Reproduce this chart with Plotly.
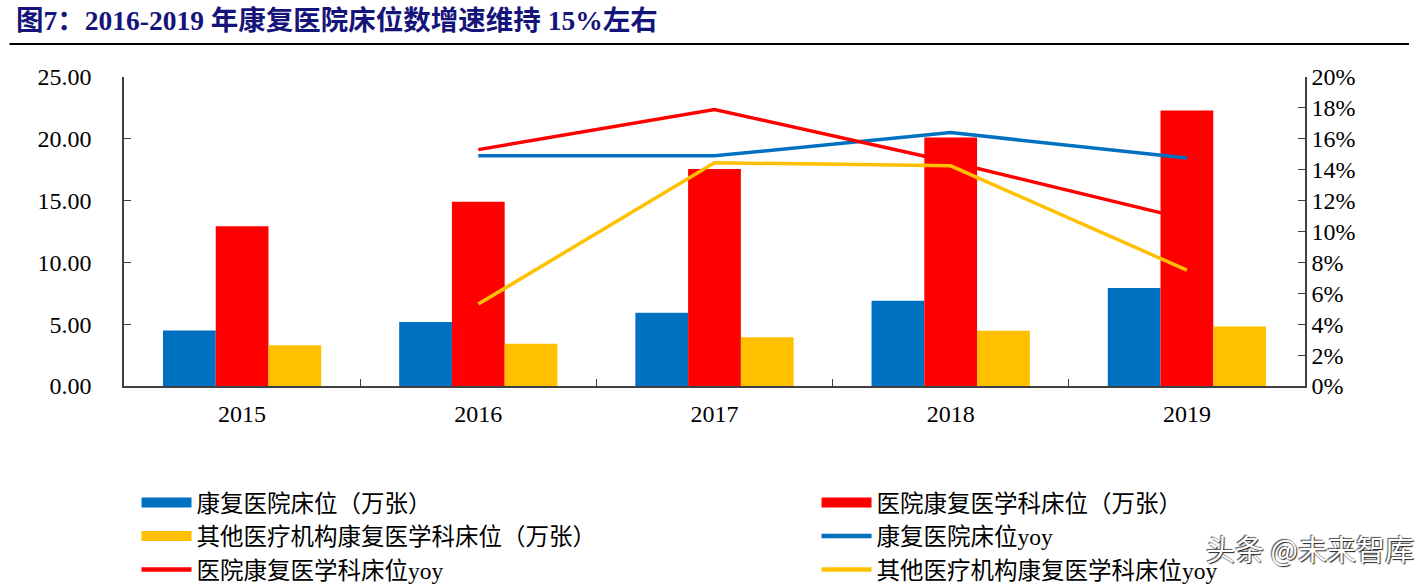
import plotly.graph_objects as go

# data
years = ["2015", "2016", "2017", "2018", "2019"]
rehab_hosp_beds = [4.50, 5.17, 5.92, 6.90, 7.93]          # 康复医院床位（万张）
hosp_rehab_dept_beds = [12.93, 14.90, 17.55, 20.11, 22.28]  # 医院康复医学科床位（万张）
other_rehab_beds = [3.29, 3.42, 3.95, 4.46, 4.81]          # 其他医疗机构康复医学科床位（万张）
rehab_hosp_yoy = [None, 0.149, 0.149, 0.164, 0.1475]
hosp_rehab_dept_yoy = [None, 0.153, 0.179, 0.145, 0.108]
other_rehab_yoy = [None, 0.053, 0.1445, 0.1425, 0.075]

names = [
    "康复医院床位（万张）",
    "医院康复医学科床位（万张）",
    "其他医疗机构康复医学科床位（万张）",
    "康复医院床位yoy",
    "医院康复医学科床位yoy",
    "其他医疗机构康复医学科床位yoy",
]
title_text = "图7：2016-2019 年康复医院床位数增速维持 15%左右"
watermark = "头条 @未来智库"

BLUE = "#0070C0"
RED = "#FF0000"
YELLOW = "#FFC000"
SERIF = "Times New Roman, Liberation Serif, Noto Sans CJK SC, serif"

fig = go.Figure()

for vals, color, name in zip(
    [rehab_hosp_beds, hosp_rehab_dept_beds, other_rehab_beds],
    [BLUE, RED, YELLOW],
    names[:3],
):
    fig.add_trace(go.Bar(
        x=years, y=vals, name=name,
        marker=dict(color=color, line=dict(width=0)),
        showlegend=False,
    ))

for vals, color, name in zip(
    [rehab_hosp_yoy, hosp_rehab_dept_yoy, other_rehab_yoy],
    [BLUE, RED, YELLOW],
    names[3:],
):
    fig.add_trace(go.Scatter(
        x=years, y=vals, name=name, yaxis="y2",
        mode="lines", line=dict(color=color, width=3.5),
        showlegend=False,
    ))

# legend entries (two columns -> two legends); thick lines stand in for bar rectangles
legend_colors = [BLUE, RED, YELLOW, BLUE, RED, YELLOW]
legend_widths = [12, 12, 12, 4.5, 4.5, 4.5]
legend_slot = ["legend", "legend2", "legend", "legend2", "legend", "legend2"]
for i, (name, color, w, slot) in enumerate(zip(names, legend_colors, legend_widths, legend_slot)):
    fig.add_trace(go.Scatter(
        x=[None], y=[None], name=name, mode="lines",
        line=dict(color=color, width=w), yaxis="y2",
        legend=slot, legendgroup=f"g{i}",
    ))

legend_style = dict(
    orientation="v", xref="container", yref="container",
    y=0.177, xanchor="left", yanchor="top",
    itemwidth=50, tracegroupgap=0,
    font=dict(family=SERIF, size=23.5),
    bgcolor="rgba(0,0,0,0)",
)

fig.update_layout(
    width=1425, height=584,
    margin=dict(l=124, r=120, t=77, b=198, autoexpand=False),
    paper_bgcolor="white", plot_bgcolor="white",
    barmode="group", bargap=0.33, bargroupgap=0,
    font=dict(family=SERIF, size=24, color="black"),
    xaxis=dict(
        type="category", range=[-0.5, 4.5],
        showline=True, linecolor="#404040", linewidth=1.5,
        ticks="inside", tickson="boundaries", ticklen=7, tickcolor="#404040",
        showgrid=False, ticklabelstandoff=5,
    ),
    yaxis=dict(
        range=[0, 25], dtick=5, tickformat=".2f",
        showline=True, linecolor="#404040", linewidth=1.5,
        ticks="inside", ticklen=7, tickcolor="#404040",
        showgrid=False, zeroline=False, ticklabelstandoff=26,
    ),
    yaxis2=dict(
        overlaying="y", side="right",
        range=[0, 0.2], dtick=0.02, tickformat=".0%",
        showline=True, linecolor="#404040", linewidth=1.5,
        ticks="inside", ticklen=7, tickcolor="#404040",
        showgrid=False, zeroline=False, ticklabelstandoff=0,
    ),
    legend=dict(legend_style, x=0.0958),
    legend2=dict(legend_style, x=0.573),
    annotations=[
        dict(
            text="<b>" + title_text + "</b>",
            xref="paper", yref="paper", x=-0.093, y=1.184,
            xanchor="left", yanchor="middle", showarrow=False,
            font=dict(family=SERIF, size=27.5, color="#14147A"),
        ),
        dict(
            text=watermark,
            xref="paper", yref="paper", x=1.094, y=-0.525,
            xanchor="right", yanchor="middle", showarrow=False,
            font=dict(family="Noto Sans CJK SC, sans-serif", size=29,
                      color="white", shadow="1px 1px 1px #222, -1px -1px 1px #555"),
        ),
    ],
    shapes=[
        dict(type="line", xref="paper", yref="paper",
             x0=-0.097, x1=1.088, y0=1.107, y1=1.107,
             line=dict(color="black", width=2)),
    ],
)

fig.write_html("out.html", config={"displayModeBar": False},
               post_script="document.body.style.margin='0px';")
